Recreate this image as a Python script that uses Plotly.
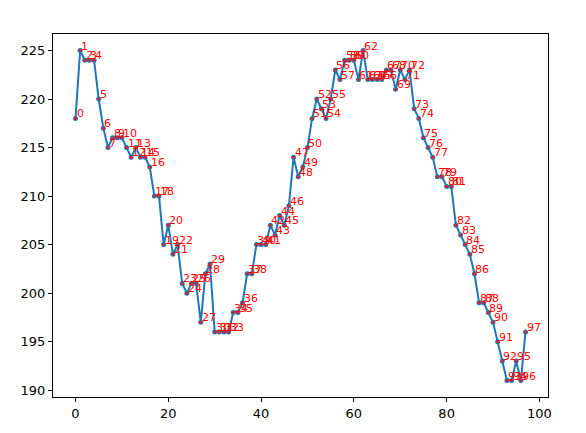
import plotly.graph_objects as go

steps = list(range(98))
values = [
    218, 225, 224, 224, 224, 220, 217, 215, 216, 216,
    216, 215, 214, 215, 214, 214, 213, 210, 210, 205,
    207, 204, 205, 201, 200, 201, 201, 197, 202, 203,
    196, 196, 196, 196, 198, 198, 199, 202, 202, 205,
    205, 205, 207, 206, 208, 207, 209, 214, 212, 213,
    215, 218, 220, 219, 218, 220, 223, 222, 224, 224,
    224, 222, 225, 222, 222, 222, 222, 223, 223, 221,
    223, 222, 223, 219, 218, 216, 215, 214, 212, 212,
    211, 211, 207, 206, 205, 204, 202, 199, 199, 198,
    197, 195, 193, 191, 191, 193, 191, 196,
]
labels = [str(i) for i in steps]

fig = go.Figure()
fig.add_trace(go.Scatter(
    x=steps, y=values, mode="lines+markers",
    line=dict(color="#1f77b4", width=2),
    marker=dict(color="#1f77b4", size=5),
    showlegend=False,
))
fig.add_trace(go.Scatter(
    x=steps, y=values, mode="markers",
    marker=dict(color="#e0202a", size=3),
    showlegend=False,
))

# index labels sit with their baseline on the point, like matplotlib text
for s, v, lab in zip(steps, values, labels):
    fig.add_annotation(
        x=s, y=v, text=lab, showarrow=False,
        xanchor="left", yanchor="bottom", xshift=-1, yshift=-4,
        font=dict(color="red", size=11, family="DejaVu Sans"),
    )

axis = dict(
    showline=True, mirror=True, linecolor="black", linewidth=1,
    ticks="outside", ticklen=4, tickcolor="black", showgrid=False,
    zeroline=False, tickfont=dict(size=13, color="black"),
)
# page body has an 8px default margin, so the figure is a bit smaller
fig.update_layout(
    width=578, height=425,
    margin=dict(l=45, r=38, t=26, b=34),
    plot_bgcolor="white", paper_bgcolor="white",
    font=dict(family="DejaVu Sans", color="black"),
    xaxis=dict(range=[-4.85, 101.85], tickvals=[0, 20, 40, 60, 80, 100], **axis),
    yaxis=dict(range=[189.3, 226.7], tickvals=[190, 195, 200, 205, 210, 215, 220, 225], **axis),
)
fig.write_html("out.html")
